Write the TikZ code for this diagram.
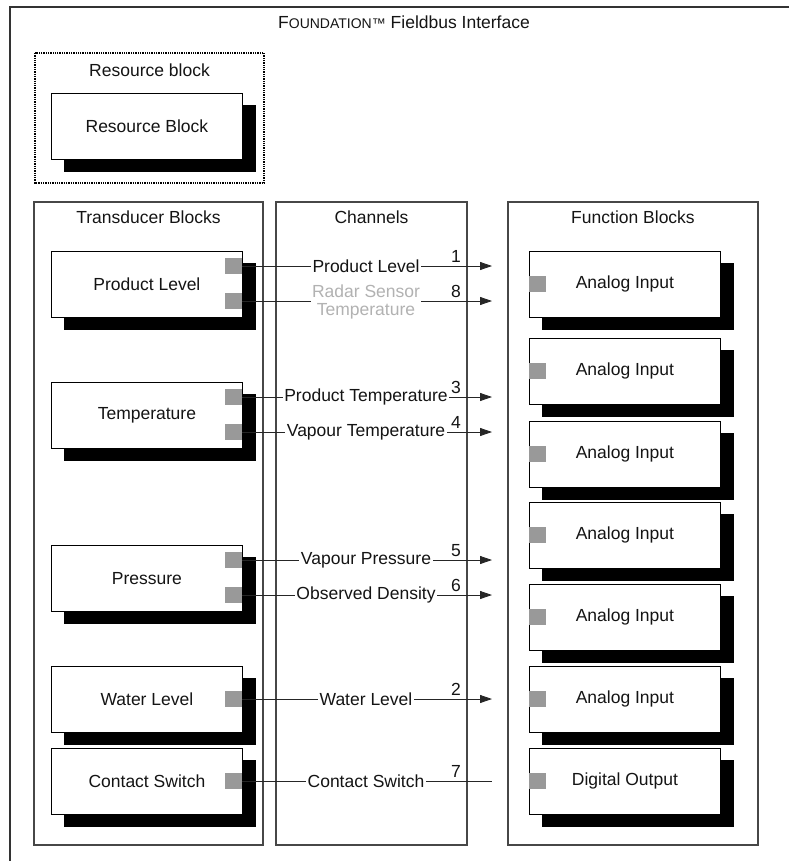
\documentclass[tikz,border=0pt]{standalone}
\usepackage{fontspec}
\setmainfont{Liberation Sans}
\usetikzlibrary{arrows.meta}
\newcommand{\myblock}[4]{%
  \fill[black] (#2+13,#3+12) rectangle (#2+205,#3+79);
  \node[blk, anchor=north west] (#1) at (#2,#3) {#4};
}
\begin{document}
\begin{tikzpicture}[x=1pt,y=-1pt,
  lbl/.style={font=\fontsize{17.5}{18.5}\selectfont, text=black!92, inner sep=0pt},
  blk/.style={lbl, draw=black, fill=white, line width=0.8pt, minimum width=191pt, minimum height=66pt},
  panel/.style={draw=black!72, line width=1.1pt},
  port/.style={fill=black!40, minimum width=17pt, minimum height=16pt, inner sep=0pt},
  chan/.style={lbl, fill=white, inner sep=1.5pt},
  num/.style={lbl, anchor=base},
  link/.style={draw=black!85, line width=0.8pt},
  arr/.style={link, -{Triangle[length=12pt,width=8pt]}}
]
\useasboundingbox (0,0) rectangle (789,861);
% outer frame
\draw[black!80, line width=1.6pt] (789,7) -- (10,7) -- (10,861);
\node[lbl] (title) at (404,22) {F{\fontsize{14}{14}\selectfont OUNDATION™} Fieldbus Interface};
% resource block
\draw[densely dotted, line width=1.3pt] (35,53) rectangle (264,183);
\node[lbl] (rbhead) at (149.5,70) {Resource block};
\myblock{rb}{51}{93}{Resource Block}
% panels
\draw[panel] (34,202) rectangle (263,845);
\draw[panel] (276,202) rectangle (467,845);
\draw[panel] (508,202) rectangle (758,845);
\node[lbl] (h1) at (148.5,217) {Transducer Blocks};
\node[lbl] (h2) at (371.5,217) {Channels};
\node[lbl] (h3) at (633,217) {Function Blocks};
% transducer blocks
\myblock{tpl}{51}{251}{Product Level}
\myblock{ttp}{51}{382}{Temperature}
\myblock{tpr}{51}{545}{Pressure}
\myblock{twl}{51}{666}{Water Level}
\myblock{tcs}{51}{748}{Contact Switch}
\node[port] (p1) at (233.5,266) {};
\node[port] (p8) at (233.5,301) {};
\node[port] (p3) at (233.5,397) {};
\node[port] (p4) at (233.5,432) {};
\node[port] (p5) at (233.5,560) {};
\node[port] (p6) at (233.5,595) {};
\node[port] (p2) at (233.5,699) {};
\node[port] (p7) at (233.5,781) {};
% function blocks
\foreach \n/\t/\txt in {f1/251/Analog Input, f2/338/Analog Input, f3/421/Analog Input, f4/502/Analog Input, f5/584/Analog Input, f6/666/Analog Input, f7/748/Digital Output}{
  \fill[black] (529+13,\t+12) rectangle (529+205,\t+79);
  \node[blk, anchor=north west] (\n) at (529,\t) {\txt};
  \node[port] (\n-in) at (537.5,\t+33) {};
}
% channel ends
\coordinate (e1) at (492,266);
\coordinate (e8) at (492,301);
\coordinate (e3) at (492,397);
\coordinate (e4) at (492,432);
\coordinate (e5) at (492,560);
\coordinate (e6) at (492,595);
\coordinate (e2) at (492,699);
\coordinate (e7) at (492,781);
\draw[arr] (p1.east) -- (e1);
\draw[arr] (p8.east) -- (e8);
\draw[arr] (p3.east) -- (e3);
\draw[arr] (p4.east) -- (e4);
\draw[arr] (p5.east) -- (e5);
\draw[arr] (p6.east) -- (e6);
\draw[arr] (p2.east) -- (e2);
\draw[link] (p7.east) -- (e7);
% channel labels
\node[chan] (c1) at (366,266) {Product Level};
\node[chan, text=black!30, align=center] (c8) at (366,302) {Radar Sensor\\Temperature};
\node[chan] (c3) at (366,397) {Product Temperature};
\node[chan] (c4) at (366,432) {Vapour Temperature};
\node[chan] (c5) at (366,560) {Vapour Pressure};
\node[chan] (c6) at (366,595) {Observed Density};
\node[chan] (c2) at (366,699) {Water Level};
\node[chan] (c7) at (366,781) {Contact Switch};
% numbers
\node[num] (n1) at (456,262) {1};
\node[num] (n8) at (456,297) {8};
\node[num] (n3) at (456,393) {3};
\node[num] (n4) at (456,428) {4};
\node[num] (n5) at (456,556) {5};
\node[num] (n6) at (456,591) {6};
\node[num] (n2) at (456,695) {2};
\node[num] (n7) at (456,777) {7};
\end{tikzpicture}
\end{document}
